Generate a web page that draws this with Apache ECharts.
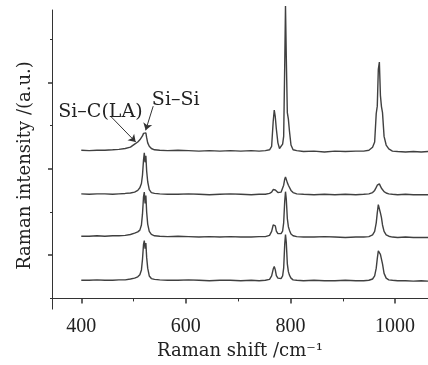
<!DOCTYPE html>
<html>
<head>
<meta charset="utf-8">
<script src="https://cdn.jsdelivr.net/npm/echarts@6/dist/echarts.min.js"></script>
<style>
  html, body { margin: 0; padding: 0; background: #fff; }
  #main { width: 428px; height: 365px; }
</style>
</head>
<body>
<div id="main"></div>
<script>
// Raman shift (cm^-1), shared by all four spectra
const shifts = [
  400, 415, 430, 445, 460, 472, 484, 494, 502, 508,
  512, 515, 517, 519, 520.5, 522, 523.5, 525, 527, 530,
  534, 540, 550, 565, 585, 605, 625, 645, 665, 685,
  705, 725, 740, 752, 760, 764, 767, 769, 771, 773,
  776, 779, 782, 785, 787, 789, 790.5, 792, 794, 796,
  798, 801, 805, 812, 825, 845, 865, 885, 905, 925,
  940, 950, 957, 961, 964, 966, 968, 970, 972, 974,
  976, 979, 983, 988, 995, 1005, 1020, 1035, 1050, 1063
];

// intensities (a.u., stacked with offsets as in the figure), top to bottom
const spec1 = [
  3.43, 3.42, 3.43, 3.43, 3.44, 3.45, 3.47, 3.50, 3.57, 3.62,
  3.67, 3.71, 3.76, 3.82, 3.84, 3.78, 3.83, 3.72, 3.60, 3.52,
  3.47, 3.44, 3.43, 3.42, 3.43, 3.42, 3.41, 3.42, 3.41, 3.42,
  3.41, 3.42, 3.41, 3.42, 3.44, 3.52, 4.10, 4.36, 4.20, 3.92,
  3.60, 3.47, 3.50, 3.57, 3.75, 5.39, 6.77, 5.60, 4.30, 4.15,
  3.88, 3.55, 3.44, 3.42, 3.40, 3.41, 3.39, 3.41, 3.40, 3.41,
  3.41, 3.43, 3.50, 3.62, 4.28, 4.45, 5.30, 5.47, 4.70, 4.44,
  4.30, 3.75, 3.55, 3.46, 3.41, 3.40, 3.39, 3.40, 3.39, 3.40
];
const spec2 = [
  2.42, 2.41, 2.42, 2.42, 2.41, 2.42, 2.43, 2.44, 2.46, 2.50,
  2.56, 2.66, 2.85, 3.20, 3.37, 3.15, 3.30, 2.95, 2.70, 2.52,
  2.45, 2.43, 2.42, 2.41, 2.41, 2.42, 2.41, 2.40, 2.41, 2.42,
  2.41, 2.40, 2.41, 2.41, 2.43, 2.46, 2.52, 2.54, 2.51, 2.47,
  2.45, 2.45, 2.46, 2.50, 2.62, 2.76, 2.81, 2.78, 2.68, 2.62,
  2.58, 2.50, 2.45, 2.42, 2.41, 2.40, 2.41, 2.40, 2.41, 2.40,
  2.41, 2.42, 2.45, 2.50, 2.57, 2.62, 2.66, 2.65, 2.60, 2.55,
  2.51, 2.47, 2.44, 2.42, 2.41, 2.40, 2.41, 2.40, 2.40, 2.40
];
const spec3 = [
  1.44, 1.44, 1.45, 1.44, 1.45, 1.45, 1.46, 1.48, 1.51, 1.54,
  1.58, 1.70, 1.95, 2.35, 2.46, 2.20, 2.38, 2.00, 1.72, 1.55,
  1.48, 1.45, 1.44, 1.43, 1.44, 1.43, 1.42, 1.43, 1.42, 1.43,
  1.42, 1.42, 1.43, 1.43, 1.46, 1.55, 1.70, 1.74, 1.68, 1.56,
  1.50, 1.48, 1.50, 1.56, 1.75, 2.25, 2.47, 2.30, 1.85, 1.66,
  1.58, 1.49, 1.45, 1.43, 1.42, 1.42, 1.43, 1.42, 1.41, 1.42,
  1.42, 1.43, 1.47, 1.55, 1.75, 1.98, 2.17, 2.20, 1.98, 1.87,
  1.70, 1.55, 1.47, 1.44, 1.42, 1.41, 1.42, 1.41, 1.41, 1.41
];
const spec4 = [
  0.42, 0.42, 0.43, 0.42, 0.42, 0.43, 0.43, 0.45, 0.47, 0.50,
  0.55, 0.66, 0.90, 1.25, 1.34, 1.15, 1.28, 0.95, 0.70, 0.52,
  0.46, 0.44, 0.43, 0.42, 0.42, 0.43, 0.42, 0.41, 0.42, 0.42,
  0.41, 0.42, 0.41, 0.42, 0.44, 0.52, 0.68, 0.74, 0.66, 0.53,
  0.47, 0.45, 0.46, 0.52, 0.70, 1.25, 1.48, 1.30, 0.80, 0.62,
  0.54, 0.47, 0.43, 0.42, 0.41, 0.42, 0.41, 0.41, 0.42, 0.41,
  0.41, 0.42, 0.45, 0.52, 0.70, 0.92, 1.10, 1.13, 1.02, 0.98,
  0.80, 0.58, 0.47, 0.43, 0.42, 0.41, 0.41, 0.40, 0.41, 0.40
];

const xMajorTicks = [400, 600, 800, 1000];
const xMinorTicks = [500, 700, 900];
const yMajorTicks = [1, 3, 5];
const yMinorTicks = [0, 2, 4, 6];

const serif = 'DejaVu Serif';
const lineColor = '#404040';
const axisColor = '#333';

const chart = echarts.init(document.getElementById('main'));

function spectrum(values, extra) {
  return Object.assign({
    type: 'line',
    data: shifts.map((x, i) => [x, values[i]]),
    showSymbol: false,
    symbol: 'none',
    clip: false,
    lineStyle: { color: lineColor, width: 1.4 },
    silent: true
  }, extra || {});
}

const option = {
  animation: false,
  backgroundColor: '#fff',
  grid: { left: 52, right: 0, top: 10, bottom: 53 },
  xAxis: [
    {
      type: 'value',
      min: 344,
      max: 1063,
      axisLine: { lineStyle: { color: axisColor, width: 1 } },
      axisTick: { customValues: xMajorTicks, length: 5, lineStyle: { color: axisColor, width: 1.5 } },
      axisLabel: {
        customValues: xMajorTicks,
        formatter: v => String(v),
        fontFamily: 'Liberation Serif',
        fontSize: 20,
        color: '#222',
        margin: 8
      },
      splitLine: { show: false },
      name: 'Raman shift /cm⁻¹',
      nameLocation: 'middle',
      nameGap: 28,
      nameTextStyle: { fontFamily: serif, fontSize: 18, color: '#222' }
    },
    {
      type: 'value',
      min: 344,
      max: 1063,
      position: 'bottom',
      axisLine: { show: false },
      axisTick: { customValues: xMinorTicks, length: 3, lineStyle: { color: axisColor } },
      axisLabel: { show: false },
      splitLine: { show: false }
    }
  ],
  yAxis: [
    {
      type: 'value',
      min: -0.247,
      max: 6.675,
      axisLine: { show: true, lineStyle: { color: axisColor, width: 1 } },
      axisTick: { show: true, customValues: yMajorTicks, length: 4, lineStyle: { color: axisColor, width: 1.5 } },
      axisLabel: { show: false },
      splitLine: { show: false },
      name: 'Raman intensity /(a.u.)',
      nameLocation: 'middle',
      nameGap: 18,
      nameTextStyle: { fontFamily: serif, fontSize: 18, color: '#222', padding: [0, 12, 0, 0] }
    },
    {
      type: 'value',
      min: -0.247,
      max: 6.675,
      position: 'left',
      axisLine: { show: false },
      axisTick: { show: true, customValues: yMinorTicks, length: 2, lineStyle: { color: axisColor } },
      axisLabel: { show: false },
      splitLine: { show: false }
    }
  ],
  series: [
    spectrum(spec1, {
      markLine: {
        silent: true,
        symbol: ['none', 'arrow'],
        symbolSize: 7,
        label: { show: false },
        lineStyle: { color: '#333', width: 1, type: 'solid' },
        data: [
          [{ coord: [457.4, 4.20] }, { coord: [504, 3.62] }],
          [{ coord: [537.5, 4.45] }, { coord: [523.1, 3.89] }]
        ]
      },
      markPoint: {
        silent: true,
        symbol: 'circle',
        symbolSize: 1,
        itemStyle: { color: 'rgba(0,0,0,0)' },
        label: {
          show: true,
          position: 'right',
          distance: 0,
          fontFamily: serif,
          fontSize: 19,
          color: '#222'
        },
        data: [
          { coord: [355, 4.31], label: { formatter: 'Si–C(LA)' } },
          { coord: [534, 4.59], label: { formatter: 'Si–Si' } }
        ]
      }
    }),
    spectrum(spec2),
    spectrum(spec3),
    spectrum(spec4)
  ]
};

chart.setOption(option);
</script>
</body>
</html>
